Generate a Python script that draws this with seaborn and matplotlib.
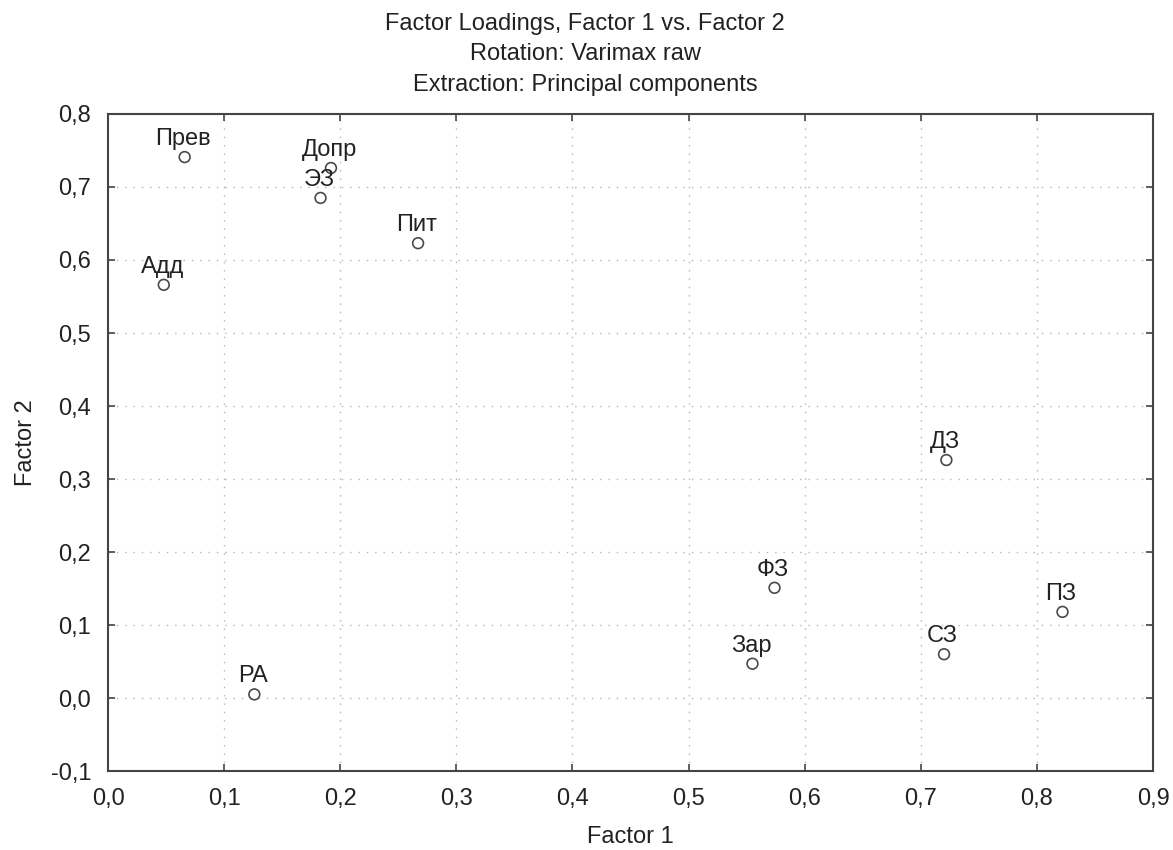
import matplotlib
matplotlib.use("Agg")
import matplotlib.pyplot as plt
import seaborn as sns
import pandas as pd
from matplotlib.ticker import FuncFormatter, MultipleLocator

labels = ["Прев", "Допр", "ЭЗ", "Пит", "Адд", "РА", "ДЗ", "ФЗ", "Зар", "СЗ", "ПЗ"]
factor1 = [0.066, 0.192, 0.183, 0.267, 0.048, 0.126, 0.722, 0.574, 0.555, 0.720, 0.822]
factor2 = [0.741, 0.726, 0.685, 0.623, 0.566, 0.005, 0.326, 0.151, 0.047, 0.060, 0.118]

df = pd.DataFrame({"label": labels, "Factor 1": factor1, "Factor 2": factor2})

sns.set_style("white")
plt.rcParams["font.family"] = ["Liberation Sans", "DejaVu Sans"]

fig = plt.figure(figsize=(11.73, 8.5), dpi=100)
ax = fig.add_axes([0.0921, 0.0929, 0.983 - 0.0921, 0.8659 - 0.0929])

sns.scatterplot(data=df, x="Factor 1", y="Factor 2", ax=ax, s=60,
                facecolor="none", edgecolor="#4a4a4a", linewidth=1.2, zorder=3)

for lab, x, y in zip(labels, factor1, factor2):
    ax.annotate(lab, (x, y), xytext=(-1, 5), textcoords="offset points",
                ha="center", va="bottom", fontsize=17, color="#222222", zorder=4)

ax.set_xlim(0.0, 0.9)
ax.set_ylim(-0.1, 0.8)
ax.xaxis.set_major_locator(MultipleLocator(0.1))
ax.yaxis.set_major_locator(MultipleLocator(0.1))
fmt = FuncFormatter(lambda v, p: f"{v:.1f}".replace(".", ",").replace("-0,0", "0,0"))
ax.xaxis.set_major_formatter(fmt)
ax.yaxis.set_major_formatter(fmt)

ax.grid(True, linestyle=(0, (1, 5)), color="#b5b5b5", linewidth=1)
ax.set_axisbelow(True)
for sp in ax.spines.values():
    sp.set_color("#444444")
    sp.set_linewidth(1.5)
ax.tick_params(direction="in", length=5, width=1.2, color="#444444",
               top=True, right=True, bottom=True, left=True,
               labelsize=17, labelcolor="#222222")
ax.tick_params(axis="x", pad=12)
ax.tick_params(axis="y", pad=12)

ax.set_xlabel("Factor 1", fontsize=17, color="#222222", labelpad=12)
ax.set_ylabel("Factor 2", fontsize=17, color="#222222", labelpad=10)

fig.text(0.499, 0.972, "Factor Loadings, Factor 1 vs. Factor 2", ha="center", va="center",
         fontsize=17, color="#222222")
fig.text(0.499, 0.936, "Rotation: Varimax raw", ha="center", va="center",
         fontsize=17, color="#222222")
fig.text(0.499, 0.900, "Extraction: Principal components", ha="center", va="center",
         fontsize=17, color="#222222")

fig.savefig("out.png", dpi=100)
